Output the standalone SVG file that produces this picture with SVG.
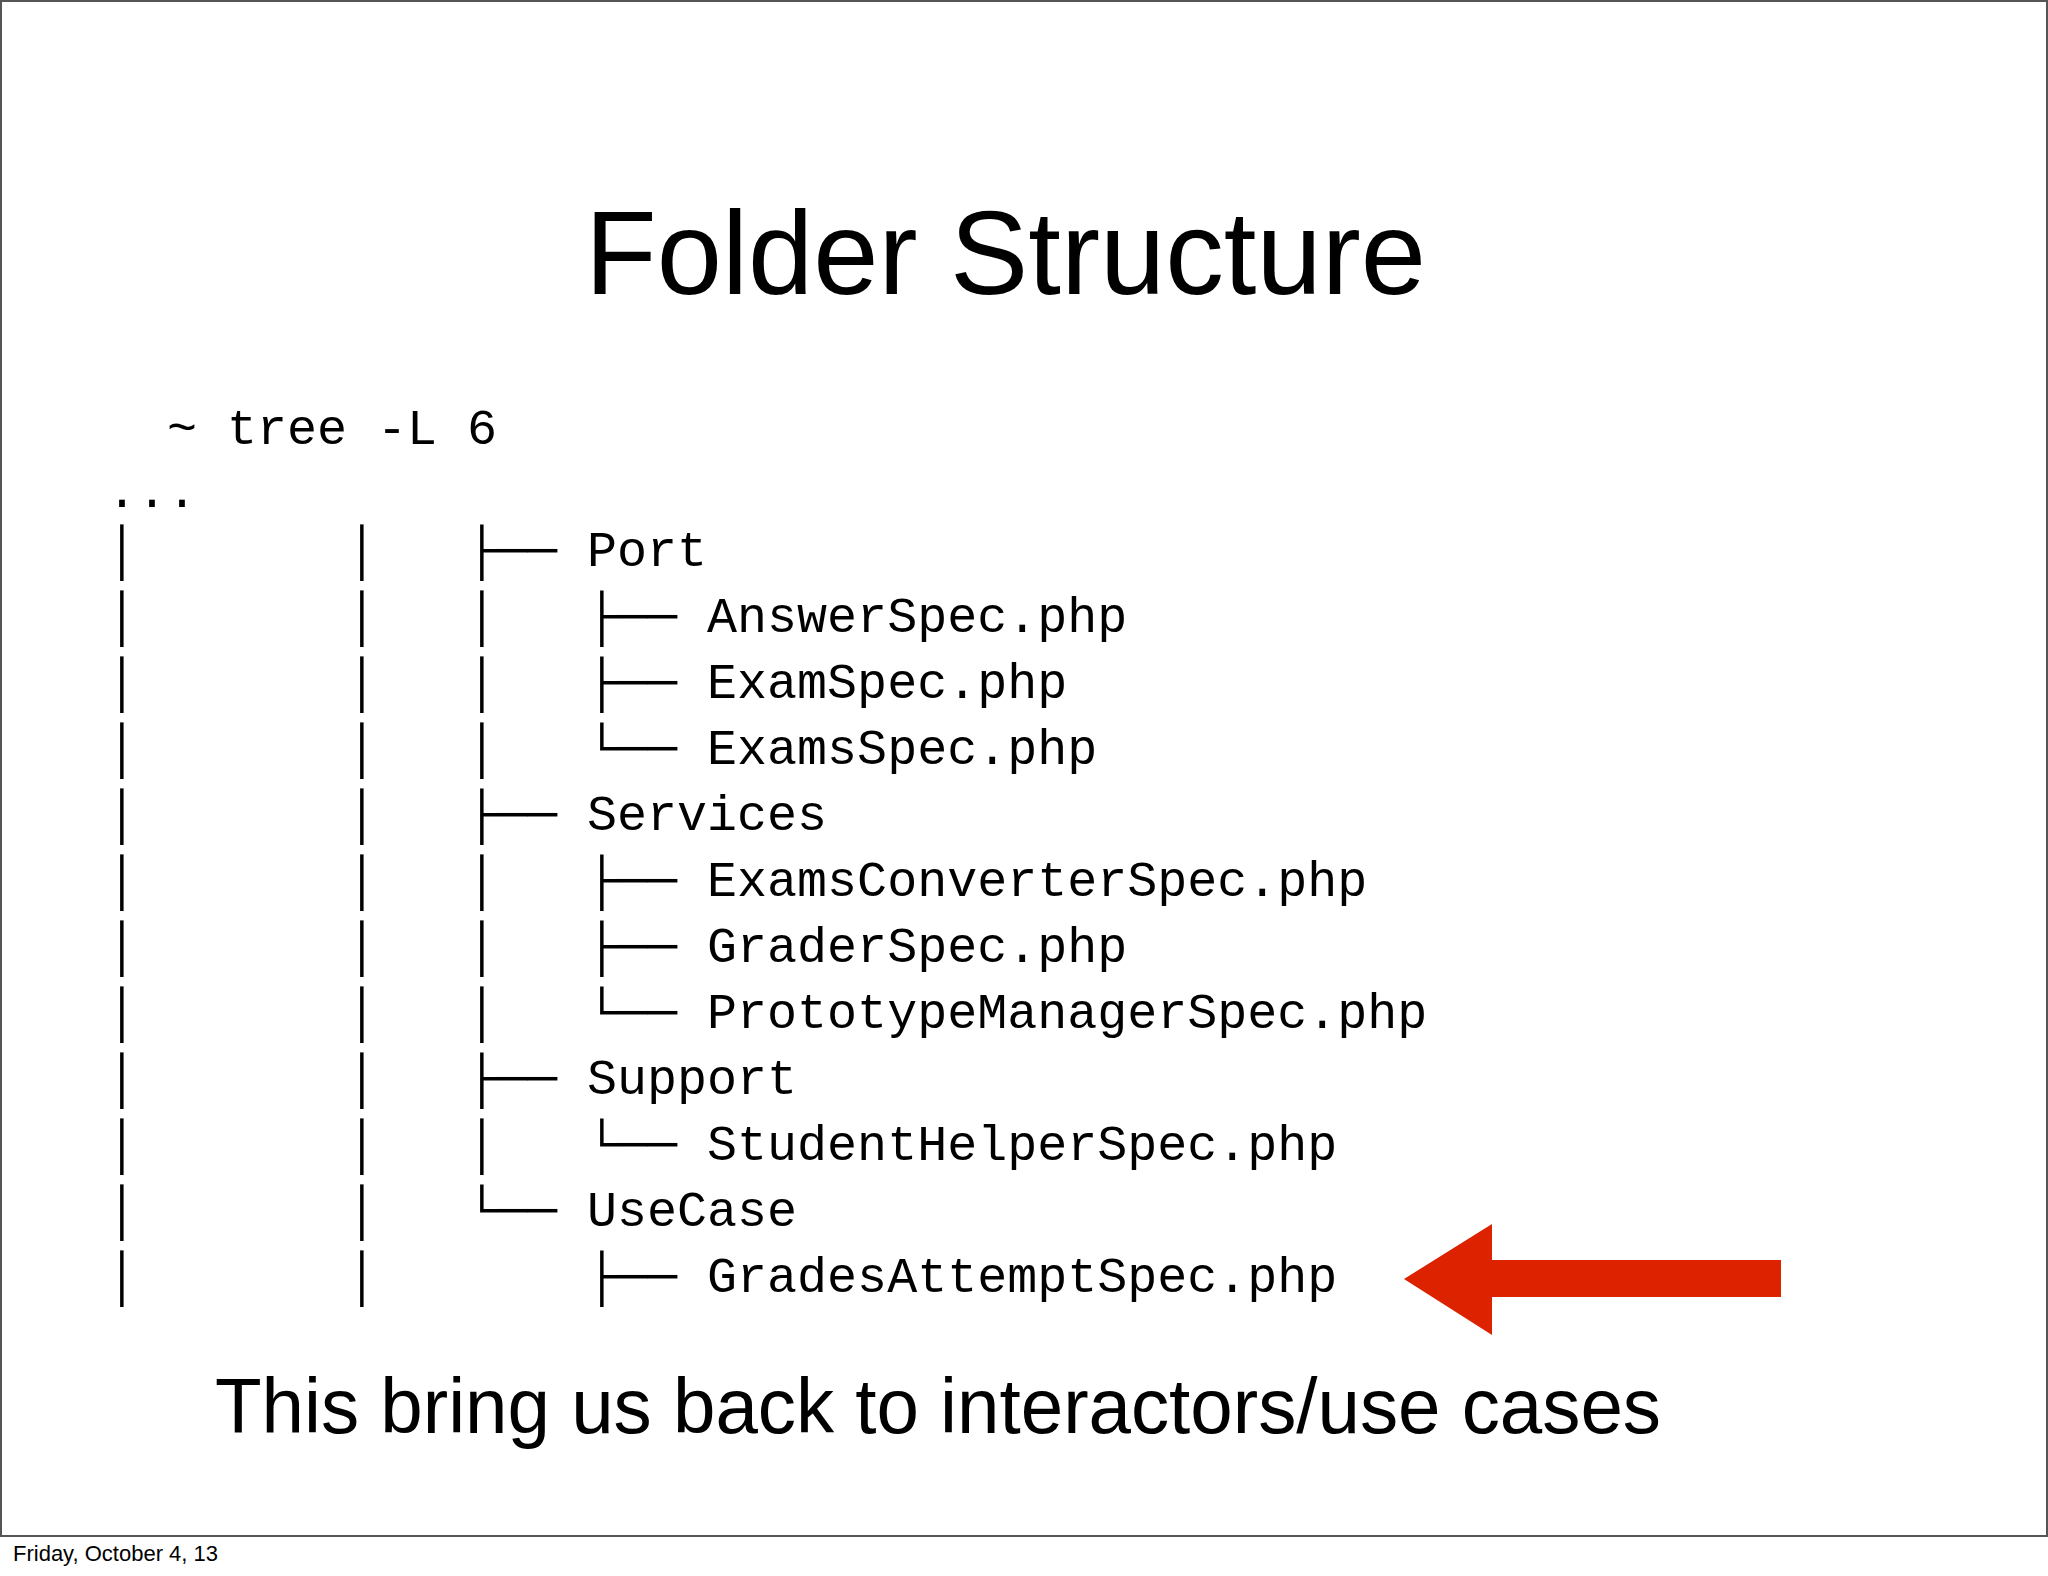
<svg xmlns="http://www.w3.org/2000/svg" width="2048" height="1576" viewBox="0 0 2048 1576">
<style>
.m{font-family:"Liberation Mono","DejaVu Sans Mono",monospace;font-size:50px;fill:#000;white-space:pre}
.g{font-family:"Gill Sans","Liberation Sans",sans-serif;fill:#000}
</style>
<rect width="2048" height="1576" fill="#fff"/>
<rect x="1" y="1" width="2046" height="1535" fill="none" stroke="#555" stroke-width="2"/>
<g id="title"><text class="g" x="585" y="294" font-size="118" textLength="841" lengthAdjust="spacingAndGlyphs">Folder Structure</text></g>
<g id="tree">
<text class="m" xml:space="preserve" x="107" y="444">  ~ tree -L 6</text>
<text class="m" xml:space="preserve" x="107" y="507">...</text>
<text class="m" xml:space="preserve" x="107" y="566">│       │   ├── Port</text>
<text class="m" xml:space="preserve" x="107" y="632">│       │   │   ├── AnswerSpec.php</text>
<text class="m" xml:space="preserve" x="107" y="698">│       │   │   ├── ExamSpec.php</text>
<text class="m" xml:space="preserve" x="107" y="764">│       │   │   └── ExamsSpec.php</text>
<text class="m" xml:space="preserve" x="107" y="830">│       │   ├── Services</text>
<text class="m" xml:space="preserve" x="107" y="896">│       │   │   ├── ExamsConverterSpec.php</text>
<text class="m" xml:space="preserve" x="107" y="962">│       │   │   ├── GraderSpec.php</text>
<text class="m" xml:space="preserve" x="107" y="1028">│       │   │   └── PrototypeManagerSpec.php</text>
<text class="m" xml:space="preserve" x="107" y="1094">│       │   ├── Support</text>
<text class="m" xml:space="preserve" x="107" y="1160">│       │   │   └── StudentHelperSpec.php</text>
<text class="m" xml:space="preserve" x="107" y="1226">│       │   └── UseCase</text>
<text class="m" xml:space="preserve" x="107" y="1292">│       │       ├── GradesAttemptSpec.php</text>
</g>
<g id="arrow"><polygon points="1404,1279 1492,1224 1492,1260 1781,1260 1781,1297 1492,1297 1492,1335" fill="#DD2200"/></g>
<g id="caption"><text class="g" x="215" y="1433" font-size="78" textLength="1446" lengthAdjust="spacingAndGlyphs">This bring us back to interactors/use cases</text></g>
<g id="footer"><text x="13" y="1561" font-family="Liberation Sans,sans-serif" font-size="22">Friday, October 4, 13</text></g>
<g id="connectors"/>
</svg>
